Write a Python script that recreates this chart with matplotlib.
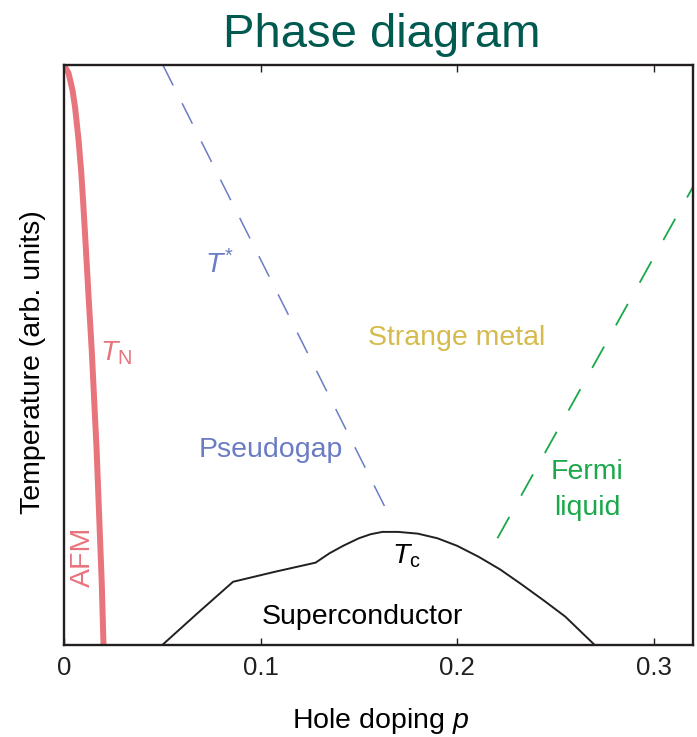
import matplotlib
matplotlib.use('Agg')
import matplotlib.pyplot as plt
import numpy as np

plt.rcParams['font.family'] = ['Liberation Sans', 'DejaVu Sans']
plt.rcParams['mathtext.fontset'] = 'custom'
plt.rcParams['mathtext.rm'] = 'Liberation Sans'
plt.rcParams['mathtext.it'] = 'Liberation Sans:italic'

# data (p, T in arb. units 0..1)
tn_p = [0.0, 0.0023, 0.0043, 0.0056, 0.0074, 0.0088, 0.0099, 0.0108, 0.0126, 0.0141, 0.0166, 0.0192, 0.0201]
tn_T = [1.0, 0.986, 0.957, 0.928, 0.871, 0.814, 0.755, 0.703, 0.595, 0.509, 0.336, 0.107, 0.0]

tstar_p = [0.0503, 0.1646]
tstar_T = [1.0, 0.229]

fl_p = [0.2205, 0.32]
fl_T = [0.184, 0.79]

tc_p = [0.050, 0.068, 0.086, 0.107, 0.128, 0.135, 0.142, 0.150, 0.156, 0.162, 0.170, 0.180,
        0.190, 0.200, 0.211, 0.222, 0.233, 0.244, 0.255, 0.270]
tc_T = [0.0, 0.055, 0.109, 0.126, 0.142, 0.158, 0.171, 0.184, 0.191, 0.195, 0.195, 0.192,
        0.184, 0.171, 0.152, 0.130, 0.104, 0.077, 0.049, 0.0]

xticks = [0, 0.1, 0.2, 0.3]
xticklabels = ['0', '0.1', '0.2', '0.3']

red = '#e8747c'
blue = '#6a7cc4'
green = '#1aa84b'
yellow = '#d4bb4c'
black = '#231f20'

fig = plt.figure(figsize=(6.97, 7.37), dpi=100)
ax = fig.add_axes([64/697, 1-645/737, 629/697, 580/737])

ax.plot(tn_p, tn_T, color=red, lw=4.3, solid_capstyle='butt', solid_joinstyle='round')
ax.plot(tstar_p, tstar_T, color=blue, lw=1.1, dashes=(15, 13))
ax.plot(fl_p, fl_T, color=green, lw=1.3, dashes=(13.5, 13.5))
ax.plot(tc_p, tc_T, color=black, lw=1.4, solid_joinstyle='round')

ax.set_xlim(0, 0.32)
ax.set_ylim(0, 1)
ax.set_yticks([])
ax.set_xticks(xticks)
ax.set_xticklabels(xticklabels)
ax.tick_params(axis='x', direction='in', length=5, width=1, top=True, labelsize=18.5, pad=8, colors=black)
for s in ax.spines.values():
    s.set_linewidth(1.7)
    s.set_color(black)

fs = 20.5
ax.text(0.0716, 0.641, r'$T^{*}$', color=blue, fontsize=fs, ha='left', va='baseline')
ax.text(0.0183, 0.491, r'$T_{\mathrm{N}}$', color=red, fontsize=fs, ha='left', va='baseline')
ax.text(0.1667, 0.141, r'$T_{\mathrm{c}}$', color='black', fontsize=fs, ha='left', va='baseline')
ax.text(0.1997, 0.517, 'Strange metal', color=yellow, fontsize=fs, ha='center', va='baseline')
ax.text(0.1054, 0.324, 'Pseudogap', color=blue, fontsize=fs, ha='center', va='baseline')
ax.text(0.2663, 0.286, 'Fermi', color=green, fontsize=fs, ha='center', va='baseline')
ax.text(0.2663, 0.224, 'liquid', color=green, fontsize=fs, ha='center', va='baseline')
ax.text(0.1519, 0.036, 'Superconductor', color='black', fontsize=fs, ha='center', va='baseline')
ax.text(0.0094, 0.152, 'AFM', color=red, fontsize=fs, ha='center', va='center', rotation=90)

fig.text(382/697, 1-47/737, 'Phase diagram', color='#005a50', fontsize=34, ha='center', va='baseline')
fig.text(33/697, 1-362/737, 'Temperature (arb. units)', fontsize=fs, ha='center', va='center', rotation=90)
fig.text(380/697, 1-728/737, r'Hole doping $p$', fontsize=fs, ha='center', va='baseline')

fig.savefig('out.png', dpi=100)
